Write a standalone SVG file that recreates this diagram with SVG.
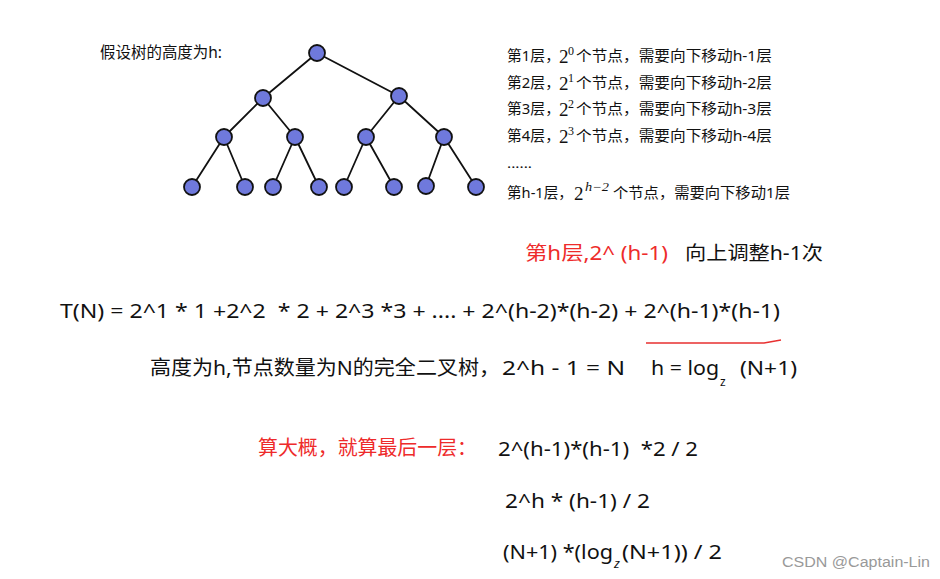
<svg xmlns="http://www.w3.org/2000/svg" width="940" height="579" viewBox="0 0 940 579">
<style>
.t{font-family:"Noto Sans","Noto Sans CJK SC",sans-serif;fill:#111}
.s{font-size:14.5px}
.m{font-family:"Liberation Serif","DejaVu Serif",serif;fill:#111}
.b{font-size:20px}
.r{fill:#ee2b2b}
.n{fill:#6f79dc;stroke:#111;stroke-width:1.8}
.e{stroke:#111;stroke-width:1.8;fill:none}
</style>
<rect width="940" height="579" fill="#fff"/>
<text class="t" x="100" y="58" font-size="15.5" textLength="122" lengthAdjust="spacingAndGlyphs">假设树的高度为h:</text>
<g id="connectors">
<path class="e" d="M317,53L263,98M317,53L399,96M263,98L224,137M263,98L295,137M399,96L366,137M399,96L444,137M224,137L192,187M224,137L245,187M295,137L273,187M295,137L319,187M366,137L344,187M366,137L394,187M444,137L426,186M444,137L476,187"/>
</g>
<g id="n1"><circle class="n" cx="317" cy="53" r="8"/></g>
<g id="n2"><circle class="n" cx="263" cy="98" r="8"/></g>
<g id="n3"><circle class="n" cx="399" cy="96" r="8"/></g>
<g id="n4"><circle class="n" cx="224" cy="137" r="8"/></g>
<g id="n5"><circle class="n" cx="295" cy="137" r="8"/></g>
<g id="n6"><circle class="n" cx="366" cy="137" r="8"/></g>
<g id="n7"><circle class="n" cx="444" cy="137" r="8"/></g>
<g id="n8"><circle class="n" cx="192" cy="187" r="8"/></g>
<g id="n9"><circle class="n" cx="245" cy="187" r="8"/></g>
<g id="n10"><circle class="n" cx="273" cy="187" r="8"/></g>
<g id="n11"><circle class="n" cx="319" cy="187" r="8"/></g>
<g id="n12"><circle class="n" cx="344" cy="187" r="8"/></g>
<g id="n13"><circle class="n" cx="394" cy="187" r="8"/></g>
<g id="n14"><circle class="n" cx="426" cy="186" r="8"/></g>
<g id="n15"><circle class="n" cx="476" cy="187" r="8"/></g>

<text class="t s" x="507" y="61" textLength="53" lengthAdjust="spacingAndGlyphs">第1层，</text>
<text class="m" x="559" y="63" font-size="19">2</text><text class="m" x="568" y="55" font-size="12">0</text>
<text class="t s" x="576" y="61" textLength="196" lengthAdjust="spacingAndGlyphs">个节点，需要向下移动h-1层</text>

<text class="t s" x="507" y="88" textLength="53" lengthAdjust="spacingAndGlyphs">第2层，</text>
<text class="m" x="559" y="90" font-size="19">2</text><text class="m" x="568" y="82" font-size="12">1</text>
<text class="t s" x="576" y="88" textLength="196" lengthAdjust="spacingAndGlyphs">个节点，需要向下移动h-2层</text>

<text class="t s" x="507" y="114" textLength="53" lengthAdjust="spacingAndGlyphs">第3层，</text>
<text class="m" x="559" y="116" font-size="19">2</text><text class="m" x="568" y="108" font-size="12">2</text>
<text class="t s" x="576" y="114" textLength="196" lengthAdjust="spacingAndGlyphs">个节点，需要向下移动h-3层</text>

<text class="t s" x="507" y="141" textLength="53" lengthAdjust="spacingAndGlyphs">第4层，</text>
<text class="m" x="559" y="143" font-size="19">2</text><text class="m" x="568" y="135" font-size="12">3</text>
<text class="t s" x="576" y="141" textLength="196" lengthAdjust="spacingAndGlyphs">个节点，需要向下移动h-4层</text>

<text class="t" x="507" y="168" font-size="12" textLength="25" lengthAdjust="spacingAndGlyphs">......</text>

<text class="t s" x="507" y="198" textLength="66" lengthAdjust="spacingAndGlyphs">第h-1层，</text>
<text class="m" x="574" y="200" font-size="19">2</text><text class="m" x="585" y="191" font-size="12" font-style="italic" textLength="24" lengthAdjust="spacingAndGlyphs">h−2</text>
<text class="t s" x="613" y="198" textLength="177" lengthAdjust="spacingAndGlyphs">个节点，需要向下移动1层</text>

<text class="t r" x="525" y="260" font-size="19" textLength="143" lengthAdjust="spacingAndGlyphs" xml:space="preserve">第h层,2^ (h-1)</text>
<text class="t" x="685" y="260" font-size="19" textLength="138" lengthAdjust="spacingAndGlyphs">向上调整h-1次</text>

<text class="t b" x="60" y="318" textLength="720" lengthAdjust="spacingAndGlyphs" xml:space="preserve">T(N) = 2^1 * 1 +2^2  * 2 + 2^3 *3 + .... + 2^(h-2)*(h-2) + 2^(h-1)*(h-1)</text>
<path d="M646,343L764,343L781,340" stroke="#e83030" stroke-width="1.3" fill="none"/>

<text class="t b" x="150" y="375" textLength="350" lengthAdjust="spacingAndGlyphs">高度为h,节点数量为N的完全二叉树，</text>
<text class="t b" x="502" y="375" textLength="123" lengthAdjust="spacingAndGlyphs">2^h - 1 = N</text>
<text class="t b" x="651" y="375" textLength="68" lengthAdjust="spacingAndGlyphs">h = log</text>
<text class="t" x="720" y="386" font-size="12">z</text>
<text class="t b" x="740" y="375" textLength="57" lengthAdjust="spacingAndGlyphs">(N+1)</text>

<text class="t b r" x="258" y="455" textLength="219" lengthAdjust="spacingAndGlyphs">算大概，就算最后一层：</text>
<text class="t b" x="498" y="456" textLength="200" lengthAdjust="spacingAndGlyphs" xml:space="preserve">2^(h-1)*(h-1)  *2 / 2</text>
<text class="t b" x="505" y="508" textLength="145" lengthAdjust="spacingAndGlyphs">2^h * (h-1) / 2</text>
<text class="t b" x="503" y="559" textLength="110" lengthAdjust="spacingAndGlyphs">(N+1) *(log</text>
<text class="t" x="614" y="568" font-size="13" font-style="italic">z</text>
<text class="t b" x="622" y="559" textLength="100" lengthAdjust="spacingAndGlyphs">(N+1)) / 2</text>

<text x="782" y="567" font-family="Liberation Sans,Arial,sans-serif" font-size="14" fill="#999" textLength="148" lengthAdjust="spacingAndGlyphs">CSDN @Captain-Lin</text>
</svg>
